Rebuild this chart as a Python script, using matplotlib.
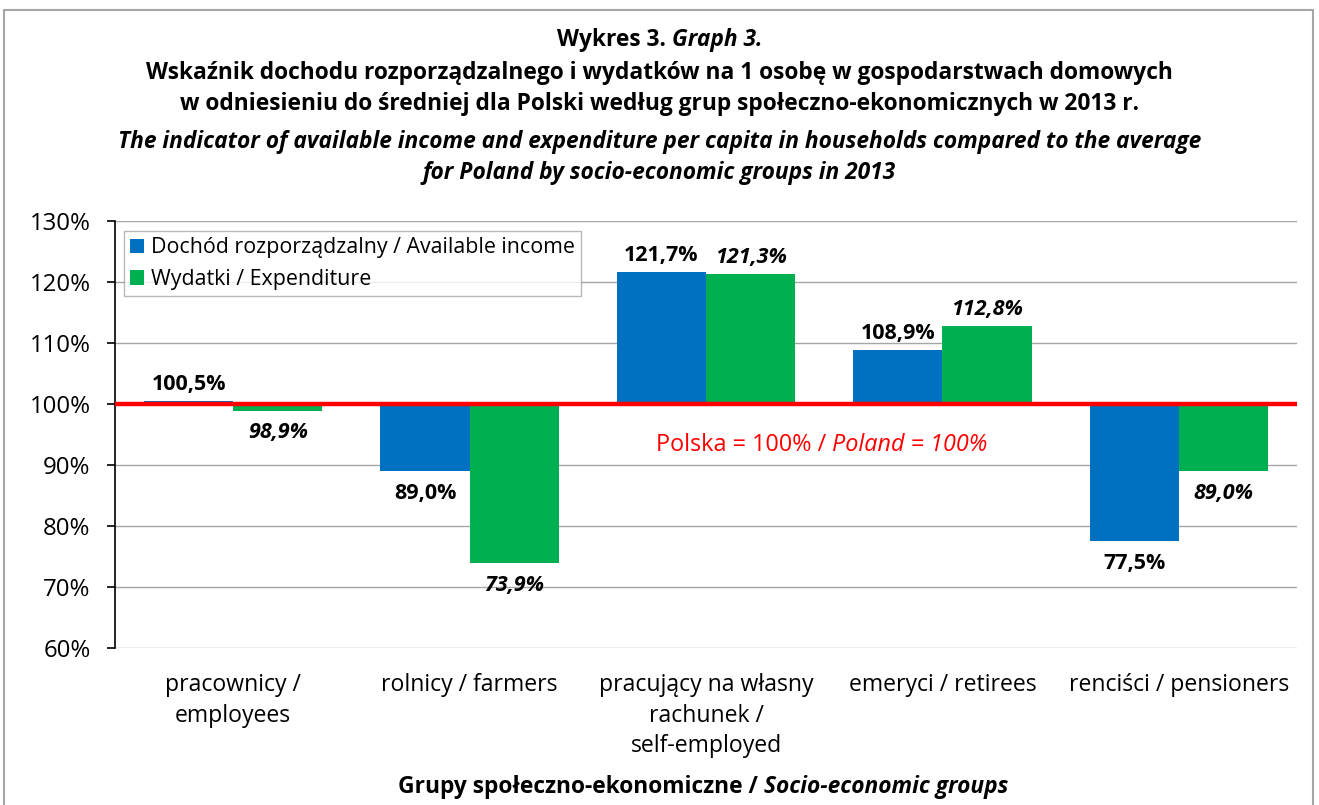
import matplotlib
matplotlib.use("Agg")
import matplotlib.pyplot as plt
from matplotlib.patches import Rectangle
import numpy as np

categories = ["pracownicy /\nemployees", "rolnicy / farmers",
              "pracujący na własny\nrachunek /\nself-employed",
              "emeryci / retirees", "renciści / pensioners"]
income = [100.5, 89.0, 121.7, 108.9, 77.5]
expenditure = [98.9, 73.9, 121.3, 112.8, 89.0]
income_labels = ["100,5%", "89,0%", "121,7%", "108,9%", "77,5%"]
exp_labels = ["98,9%", "73,9%", "121,3%", "112,8%", "89,0%"]
yticks = [60, 70, 80, 90, 100, 110, 120, 130]

plt.rcParams['font.family'] = ['Open Sans', 'DejaVu Sans']
BLUE = "#0070C0"
GREEN = "#00B050"

fig = plt.figure(figsize=(13.19, 8.05), dpi=100)
W, H = 1319, 805
ax = fig.add_axes([115 / W, 1 - 648 / H, (1297 - 115) / W, (648 - 221) / H])

x = np.arange(len(categories))
bw = 0.377
base = 100
bi = ax.bar(x - bw / 2, np.array(income) - base, bw, bottom=base, color=BLUE,
            label="Dochód rozporządzalny / Available income", zorder=3)
be = ax.bar(x + bw / 2, np.array(expenditure) - base, bw, bottom=base, color=GREEN,
            label="Wydatki / Expenditure", zorder=3)

ax.axhline(100, color="#FF0000", lw=3.2, zorder=4)

ax.set_xlim(-0.5, len(categories) - 0.5)
ax.set_ylim(60, 130)
ax.set_yticks(yticks)
ax.set_yticklabels([f"{v}%" for v in yticks], fontsize=17.3)
ax.yaxis.grid(True, color="#A6A6A6", lw=1)
ax.set_axisbelow(True)
for s in ["top", "right", "bottom"]:
    ax.spines[s].set_visible(False)
ax.spines["left"].set_color("black")
ax.spines["left"].set_linewidth(1.2)
ax.tick_params(axis="y", direction="out", length=6, width=1.2, pad=11.5)
ax.tick_params(axis="x", length=0, pad=18)
ax.set_xticks(x)
ax.set_xticklabels(categories, fontsize=16.6, linespacing=1.37)

for xi, v, lab in zip(x - bw / 2, income, income_labels):
    if v >= 100:
        ax.text(xi, v + 1.0, lab, ha="center", va="bottom", fontsize=15.5, fontweight="bold")
    else:
        ax.text(xi, v - 1.9, lab, ha="center", va="top", fontsize=15.5, fontweight="bold")
for xi, v, lab in zip(x + bw / 2, expenditure, exp_labels):
    if v >= 100:
        ax.text(xi, v + 1.0, lab, ha="center", va="bottom", fontsize=15.5,
                fontweight="bold", style="italic")
    else:
        ax.text(xi, v - 1.9, lab, ha="center", va="top", fontsize=15.5,
                fontweight="bold", style="italic")

leg = ax.legend(loc="upper left", bbox_to_anchor=(0.0076, 0.977), borderaxespad=0,
                fontsize=15.4, frameon=True, fancybox=False, edgecolor="#A6A6A6",
                handlelength=0.65, handleheight=0.65, handletextpad=0.3,
                borderpad=0.3, labelspacing=0.5)
leg.get_frame().set_linewidth(1)

fig.canvas.draw()
renderer = fig.canvas.get_renderer()


def two_part(xc, yc, a, b, size, color="black", weight="bold", bstyle="italic"):
    t1 = fig.text(0, 0, a, fontsize=size, fontweight=weight, color=color)
    t2 = fig.text(0, 0, b, fontsize=size, fontweight=weight, color=color, style=bstyle)
    w1 = t1.get_window_extent(renderer).width
    w2 = t2.get_window_extent(renderer).width
    px, py = fig.transFigure.transform((xc, yc))
    left = px - (w1 + w2) / 2
    t1.set_transform(None)
    t2.set_transform(None)
    t1.set_position((left, py))
    t2.set_position((left + w1, py))
    for t in (t1, t2):
        t.set_va("center")
        t.set_ha("left")


TS = 16.4
two_part(0.5, 1 - 40 / H, "Wykres 3. ", "Graph 3.", TS)
fig.text(0.5, 1 - 73 / H, "Wskaźnik dochodu rozporządzalnego i wydatków na 1 osobę w gospodarstwach domowych",
         ha="center", va="center", fontsize=TS, fontweight="bold")
fig.text(0.5, 1 - 104 / H, "w odniesieniu do średniej dla Polski według grup społeczno-ekonomicznych w 2013 r.",
         ha="center", va="center", fontsize=TS, fontweight="bold")
fig.text(0.5, 1 - 142 / H, "The indicator of available income and expenditure per capita in households compared to the average",
         ha="center", va="center", fontsize=TS, fontweight="bold", style="italic")
fig.text(0.5, 1 - 173 / H, "for Poland by socio-economic groups in 2013",
         ha="center", va="center", fontsize=TS, fontweight="bold", style="italic")

two_part(703 / W, 1 - 787 / H, "Grupy społeczno-ekonomiczne / ", "Socio-economic groups", 16.4)
two_part(822 / W, 1 - 445 / H, "Polska = 100% / ", "Poland = 100%", 16.8,
         color="#FF0000", weight="normal")

fig.patches.append(Rectangle((4 / W, -0.05), (1313 - 4) / W, 1 - 10 / H + 0.05,
                             transform=fig.transFigure, fill=False,
                             edgecolor="#A6A6A6", lw=1.5))

fig.savefig("out.png", dpi=100)
